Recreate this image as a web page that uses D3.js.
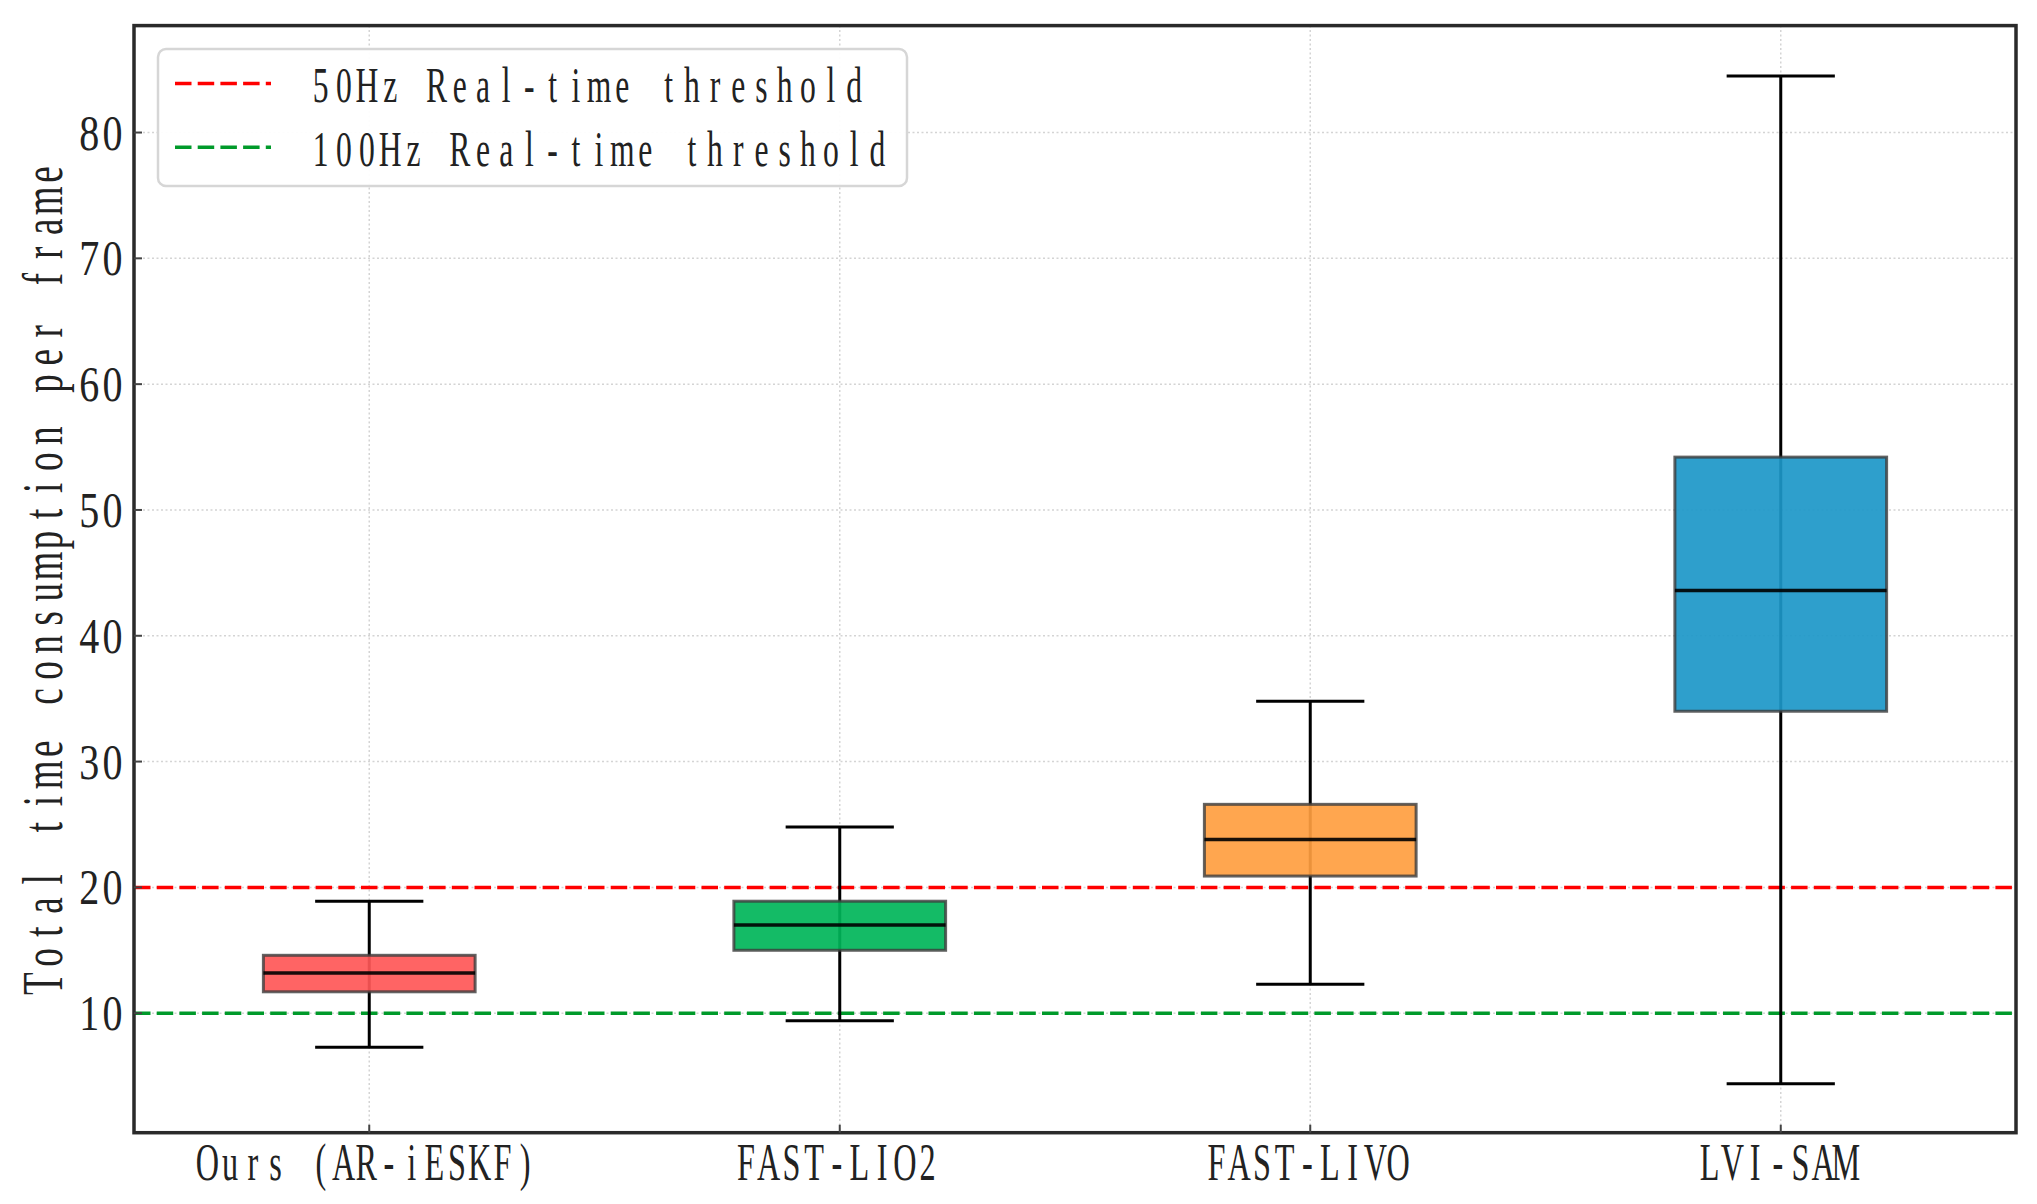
<!DOCTYPE html>
<html>
<head>
<meta charset="utf-8">
<script src="https://cdn.jsdelivr.net/npm/d3@7/dist/d3.min.js"></script>
<style>
  html, body { margin: 0; padding: 0; background: #fff; }
  svg { display: block; }
</style>
</head>
<body>
<div id="chart"></div>
<script>
// data (ms per frame)
const categories = ["Ours (AR-iESKF)", "FAST-LIO2", "FAST-LIVO", "LVI-SAM"];
const whiskerLow = [7.3, 9.4, 12.3, 4.4];
const q1 = [11.7, 15.0, 20.9, 34.0];
const median = [13.2, 17.0, 23.8, 43.6];
const q3 = [14.6, 18.9, 26.6, 54.2];
const whiskerHigh = [18.9, 24.8, 34.8, 84.5];
const boxColors = ["#ff5757", "#00b559", "#ff9e40", "#1c97c8"];

const thresholdLabels = ["50Hz Real-time threshold", "100Hz Real-time threshold"];
const thresholdValues = [20, 10];
const thresholdColors = ["#ff0000", "#009a2a"];

const yTicks = [10, 20, 30, 40, 50, 60, 70, 80];
const yLabel = "Total time consumption per frame";

const W = 2037, H = 1204;
const margin = { top: 25.6, right: 21, bottom: 71.3, left: 134 };
const fontFamily = "'Liberation Serif', 'DejaVu Serif', serif";

const svg = d3.select("#chart").append("svg")
  .attr("width", W)
  .attr("height", H);

const x = d3.scaleBand()
  .domain(categories)
  .range([margin.left, W - margin.right])
  .paddingInner(0)
  .paddingOuter(0);

const y = d3.scaleLinear()
  .domain([0.5, 88.5])
  .range([H - margin.bottom, margin.top]);

const cx = d => x(d) + x.bandwidth() / 2;
const boxW = x.bandwidth() * 0.45;
const capW = x.bandwidth() * 0.23;

// the original uses a fixed-pitch song-style face: put every character in its own cell
// and squeeze the glyphs sideways
function monoText(parent, txt, px, py, anchor, adv, size, squeeze, rot) {
  const n = txt.length;
  const start = anchor === "middle" ? -n * adv / 2 : anchor === "end" ? -n * adv : 0;
  const xs = d3.range(n).map(i => ((start + i * adv + adv / 2) / squeeze).toFixed(2));
  parent.append("g")
    .attr("transform", `translate(${px},${py}) rotate(${rot || 0}) scale(${squeeze},1)`)
    .append("text")
    .attr("x", xs.join(" "))
    .attr("y", 0)
    .attr("dy", rot ? 0 : "0.34em")
    .attr("text-anchor", "middle")
    .attr("font-family", fontFamily)
    .attr("font-size", size)
    .attr("fill", "#222")
    .style("white-space", "pre")
    .text(txt);
}

// grid
const grid = svg.append("g");
grid.selectAll("line.hg")
  .data(yTicks)
  .enter().append("line")
  .attr("x1", margin.left).attr("x2", W - margin.right)
  .attr("y1", d => y(d)).attr("y2", d => y(d))
  .attr("stroke", "#d4d4d4")
  .attr("stroke-width", 1.5)
  .attr("stroke-dasharray", "2,2.5");
grid.selectAll("line.vg")
  .data(categories)
  .enter().append("line")
  .attr("x1", d => cx(d)).attr("x2", d => cx(d))
  .attr("y1", margin.top).attr("y2", H - margin.bottom)
  .attr("stroke", "#d4d4d4")
  .attr("stroke-width", 1.5)
  .attr("stroke-dasharray", "2,2.5");

// threshold lines
svg.selectAll("line.thr")
  .data(thresholdValues)
  .enter().append("line")
  .attr("x1", margin.left).attr("x2", W - margin.right)
  .attr("y1", d => y(d)).attr("y2", d => y(d))
  .attr("stroke", (d, i) => thresholdColors[i])
  .attr("stroke-width", 3.5)
  .attr("stroke-dasharray", "16.5,6.2");

// boxes
const boxes = svg.selectAll("g.box")
  .data(categories)
  .enter().append("g")
  .attr("class", "box");

boxes.append("line")
  .attr("x1", d => cx(d)).attr("x2", d => cx(d))
  .attr("y1", (d, i) => y(whiskerLow[i]))
  .attr("y2", (d, i) => y(whiskerHigh[i]))
  .attr("stroke", "#000")
  .attr("stroke-width", 3);

[whiskerLow, whiskerHigh].forEach(arr => {
  boxes.append("line")
    .attr("x1", d => cx(d) - capW / 2).attr("x2", d => cx(d) + capW / 2)
    .attr("y1", (d, i) => y(arr[i])).attr("y2", (d, i) => y(arr[i]))
    .attr("stroke", "#000")
    .attr("stroke-width", 3);
});

boxes.append("rect")
  .attr("x", d => cx(d) - boxW / 2)
  .attr("width", boxW)
  .attr("y", (d, i) => y(q3[i]))
  .attr("height", (d, i) => y(q1[i]) - y(q3[i]))
  .attr("fill", (d, i) => boxColors[i])
  .attr("fill-opacity", 0.92)
  .attr("stroke", "#3c3c3c")
  .attr("stroke-opacity", 0.8)
  .attr("stroke-width", 3);

boxes.append("line")
  .attr("x1", d => cx(d) - boxW / 2).attr("x2", d => cx(d) + boxW / 2)
  .attr("y1", (d, i) => y(median[i])).attr("y2", (d, i) => y(median[i]))
  .attr("stroke", "#000")
  .attr("stroke-opacity", 0.9)
  .attr("stroke-width", 3.5);

// frame
svg.append("rect")
  .attr("x", margin.left).attr("y", margin.top)
  .attr("width", W - margin.left - margin.right)
  .attr("height", H - margin.top - margin.bottom)
  .attr("fill", "none")
  .attr("stroke", "#2a2a2a")
  .attr("stroke-width", 3.5);

// inward ticks
svg.selectAll("line.yt")
  .data(yTicks)
  .enter().append("line")
  .attr("x1", margin.left).attr("x2", margin.left + 8)
  .attr("y1", d => y(d)).attr("y2", d => y(d))
  .attr("stroke", "#444").attr("stroke-width", 2);
svg.selectAll("line.xt")
  .data(categories)
  .enter().append("line")
  .attr("x1", d => cx(d)).attr("x2", d => cx(d))
  .attr("y1", H - margin.bottom).attr("y2", H - margin.bottom - 8)
  .attr("stroke", "#444").attr("stroke-width", 2);

// tick labels
const tickLabels = svg.append("g");
yTicks.forEach(t => monoText(tickLabels, String(t), 124, y(t), "end", 23.2, 50, 0.8));
categories.forEach(c => monoText(tickLabels, c, cx(c) - 3, 1162, "middle", 22.7, 52, 0.62));

// y axis title
monoText(svg, yLabel, 62, (margin.top + H - margin.bottom) / 2, "middle", 26.1, 58, 0.64, -90);

// legend
const legend = svg.append("g");
legend.append("rect")
  .attr("x", 158).attr("y", 49)
  .attr("width", 749).attr("height", 137)
  .attr("rx", 8)
  .attr("fill", "#fff")
  .attr("fill-opacity", 0.95)
  .attr("stroke", "#d6d6d6")
  .attr("stroke-width", 2.5);

const legendRows = [83.4, 147.3];
thresholdLabels.forEach((t, i) => {
  legend.append("line")
    .attr("x1", 175).attr("x2", 271)
    .attr("y1", legendRows[i]).attr("y2", legendRows[i])
    .attr("stroke", thresholdColors[i])
    .attr("stroke-width", 3.5)
    .attr("stroke-dasharray", "16.5,6.2");
  monoText(legend, t, 309, legendRows[i] + 1.5, "start", 23.2, 51, 0.62);
});
</script>
</body>
</html>
